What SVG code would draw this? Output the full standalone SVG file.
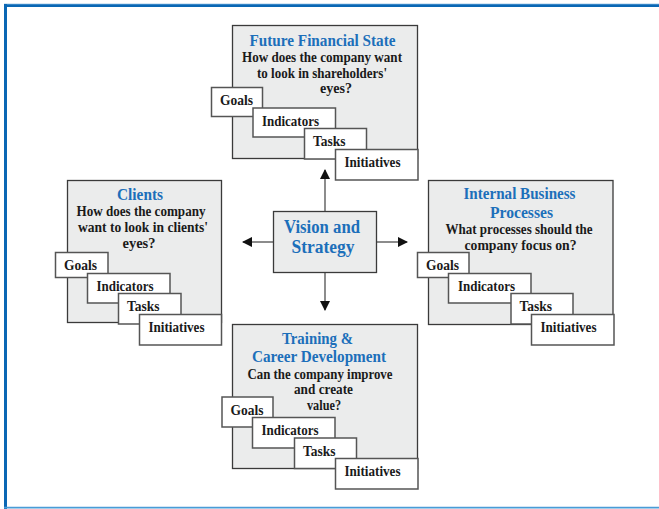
<svg xmlns="http://www.w3.org/2000/svg" width="659" height="509" viewBox="0 0 659 509">
  <defs>
    <style>
      .panel { fill: #ebecec; stroke: #3a3a3a; stroke-width: 1.3; }
      .card { fill: #ffffff; stroke: #555555; stroke-width: 1.5; }
      text { font-family: "Liberation Serif", "Times New Roman", serif; font-weight: bold; }
      .title { font-size: 16px; fill: #1c6fba; text-anchor: middle; }
      .hub { font-size: 18px; fill: #1c6fba; text-anchor: middle; }
      .q { font-size: 14px; fill: #1a1a1a; text-anchor: middle; }
      .lbl { font-size: 14px; fill: #1a1a1a; }
      .link { stroke: #707070; stroke-width: 1.6; fill: none; marker-end: url(#head); }
    </style>
    <marker id="head" viewBox="0 0 10 10" refX="9" refY="5" markerWidth="6.5" markerHeight="6.5" orient="auto" markerUnits="strokeWidth">
      <path d="M0,0 L10,5 L0,10 Z" fill="#111111"/>
    </marker>
  </defs>

  <!-- page frame -->
  <g id="frame">
    <line x1="4" y1="5.5" x2="659" y2="5.5" stroke="#0a67b4" stroke-width="3"/>
    <line x1="4" y1="4.2" x2="659" y2="4.2" stroke="#5a9fd6" stroke-width="0.8"/>
    <line x1="5.5" y1="4" x2="5.5" y2="509" stroke="#0a67b4" stroke-width="3"/>
    <line x1="4" y1="507.6" x2="659" y2="507.6" stroke="#4a9bd6" stroke-width="1.6"/>
  </g>

  <!-- connectors from the hub -->
  <g id="connectors">
    <line class="link" x1="325" y1="211" x2="325" y2="170"/>
    <line class="link" x1="325" y1="273" x2="325" y2="310"/>
    <line class="link" x1="273" y1="242" x2="243" y2="242"/>
    <line class="link" x1="377" y1="242" x2="407" y2="242"/>
  </g>

  <!-- hub -->
  <g id="vision-strategy">
    <rect class="panel" x="273.5" y="211.5" width="103" height="61"/>
    <text class="hub" x="322" y="233" textLength="76" lengthAdjust="spacingAndGlyphs">Vision and</text>
    <text class="hub" x="323" y="253" textLength="63" lengthAdjust="spacingAndGlyphs">Strategy</text>
  </g>

  <!-- financial perspective -->
  <g id="financial">
    <rect class="panel" x="232.5" y="25.5" width="185" height="133"/>
    <text class="title" x="322.5" y="46" textLength="146" lengthAdjust="spacingAndGlyphs">Future Financial State</text>
    <text class="q" x="322" y="61.5" textLength="160" lengthAdjust="spacingAndGlyphs">How does the company want</text>
    <text class="q" x="322" y="77.5" textLength="130" lengthAdjust="spacingAndGlyphs">to look in shareholders'</text>
    <text class="q" x="336" y="93" textLength="32" lengthAdjust="spacingAndGlyphs">eyes?</text>
    <rect class="card" x="211.5" y="87.5" width="51" height="29"/>
    <text class="lbl" x="220" y="105" textLength="33" lengthAdjust="spacingAndGlyphs">Goals</text>
    <rect class="card" x="253" y="108" width="82.5" height="29"/>
    <text class="lbl" x="262" y="125.5" textLength="57" lengthAdjust="spacingAndGlyphs">Indicators</text>
    <rect class="card" x="304.5" y="128.5" width="62" height="30.5"/>
    <text class="lbl" x="313" y="146" textLength="32.5" lengthAdjust="spacingAndGlyphs">Tasks</text>
    <rect class="card" x="335.5" y="149.5" width="82.5" height="30.5"/>
    <text class="lbl" x="344.5" y="167" textLength="56" lengthAdjust="spacingAndGlyphs">Initiatives</text>
  </g>

  <!-- client perspective -->
  <g id="clients">
    <rect class="panel" x="67.5" y="180.5" width="154" height="142"/>
    <text class="title" x="140" y="200" textLength="46" lengthAdjust="spacingAndGlyphs">Clients</text>
    <text class="q" x="141" y="216" textLength="129" lengthAdjust="spacingAndGlyphs">How does the company</text>
    <text class="q" x="143" y="232" textLength="130" lengthAdjust="spacingAndGlyphs">want to look in clients'</text>
    <text class="q" x="139" y="248" textLength="33" lengthAdjust="spacingAndGlyphs">eyes?</text>
    <rect class="card" x="55.5" y="252.5" width="52.5" height="25"/>
    <text class="lbl" x="64" y="269.5" textLength="33" lengthAdjust="spacingAndGlyphs">Goals</text>
    <rect class="card" x="87.5" y="273.5" width="82.5" height="29.5"/>
    <text class="lbl" x="96.5" y="291" textLength="57" lengthAdjust="spacingAndGlyphs">Indicators</text>
    <rect class="card" x="118.5" y="293.5" width="62.5" height="30.5"/>
    <text class="lbl" x="127" y="311" textLength="32.5" lengthAdjust="spacingAndGlyphs">Tasks</text>
    <rect class="card" x="139.5" y="314.5" width="82" height="30.5"/>
    <text class="lbl" x="148.5" y="332" textLength="56" lengthAdjust="spacingAndGlyphs">Initiatives</text>
  </g>

  <!-- internal process perspective -->
  <g id="internal">
    <rect class="panel" x="428.5" y="180.5" width="184.5" height="144"/>
    <text class="title" x="519.5" y="199" textLength="112" lengthAdjust="spacingAndGlyphs">Internal Business</text>
    <text class="title" x="521.5" y="217.5" textLength="63" lengthAdjust="spacingAndGlyphs">Processes</text>
    <text class="q" x="519" y="233.5" textLength="147" lengthAdjust="spacingAndGlyphs">What processes should the</text>
    <text class="q" x="520.5" y="249.5" textLength="112" lengthAdjust="spacingAndGlyphs">company focus on?</text>
    <rect class="card" x="417.5" y="252.5" width="51.5" height="25"/>
    <text class="lbl" x="426" y="269.5" textLength="33" lengthAdjust="spacingAndGlyphs">Goals</text>
    <rect class="card" x="448.5" y="273.5" width="82.5" height="29.5"/>
    <text class="lbl" x="458" y="291" textLength="57" lengthAdjust="spacingAndGlyphs">Indicators</text>
    <rect class="card" x="511" y="293.5" width="62" height="30.5"/>
    <text class="lbl" x="519.5" y="311" textLength="32.5" lengthAdjust="spacingAndGlyphs">Tasks</text>
    <rect class="card" x="531.5" y="314.5" width="82.5" height="30.5"/>
    <text class="lbl" x="540.5" y="332" textLength="56" lengthAdjust="spacingAndGlyphs">Initiatives</text>
  </g>

  <!-- learning and growth perspective -->
  <g id="training">
    <rect class="panel" x="232.5" y="324.5" width="185" height="144"/>
    <text class="title" x="317.5" y="343.5" textLength="71" lengthAdjust="spacingAndGlyphs">Training &amp;</text>
    <text class="title" x="319" y="362" textLength="134" lengthAdjust="spacingAndGlyphs">Career Development</text>
    <text class="q" x="320" y="378.5" textLength="145" lengthAdjust="spacingAndGlyphs">Can the company improve</text>
    <text class="q" x="323.5" y="394" textLength="59" lengthAdjust="spacingAndGlyphs">and create</text>
    <text class="q" x="324" y="409.5" textLength="34" lengthAdjust="spacingAndGlyphs">value?</text>
    <rect class="card" x="222" y="397" width="51" height="30"/>
    <text class="lbl" x="230.5" y="414.5" textLength="33" lengthAdjust="spacingAndGlyphs">Goals</text>
    <rect class="card" x="252.5" y="417.5" width="82.5" height="30.5"/>
    <text class="lbl" x="261.5" y="435" textLength="57" lengthAdjust="spacingAndGlyphs">Indicators</text>
    <rect class="card" x="294.5" y="438" width="62" height="30.5"/>
    <text class="lbl" x="303" y="455.5" textLength="32.5" lengthAdjust="spacingAndGlyphs">Tasks</text>
    <rect class="card" x="335.5" y="458.5" width="82.5" height="30.5"/>
    <text class="lbl" x="344.5" y="476" textLength="56" lengthAdjust="spacingAndGlyphs">Initiatives</text>
  </g>
</svg>
